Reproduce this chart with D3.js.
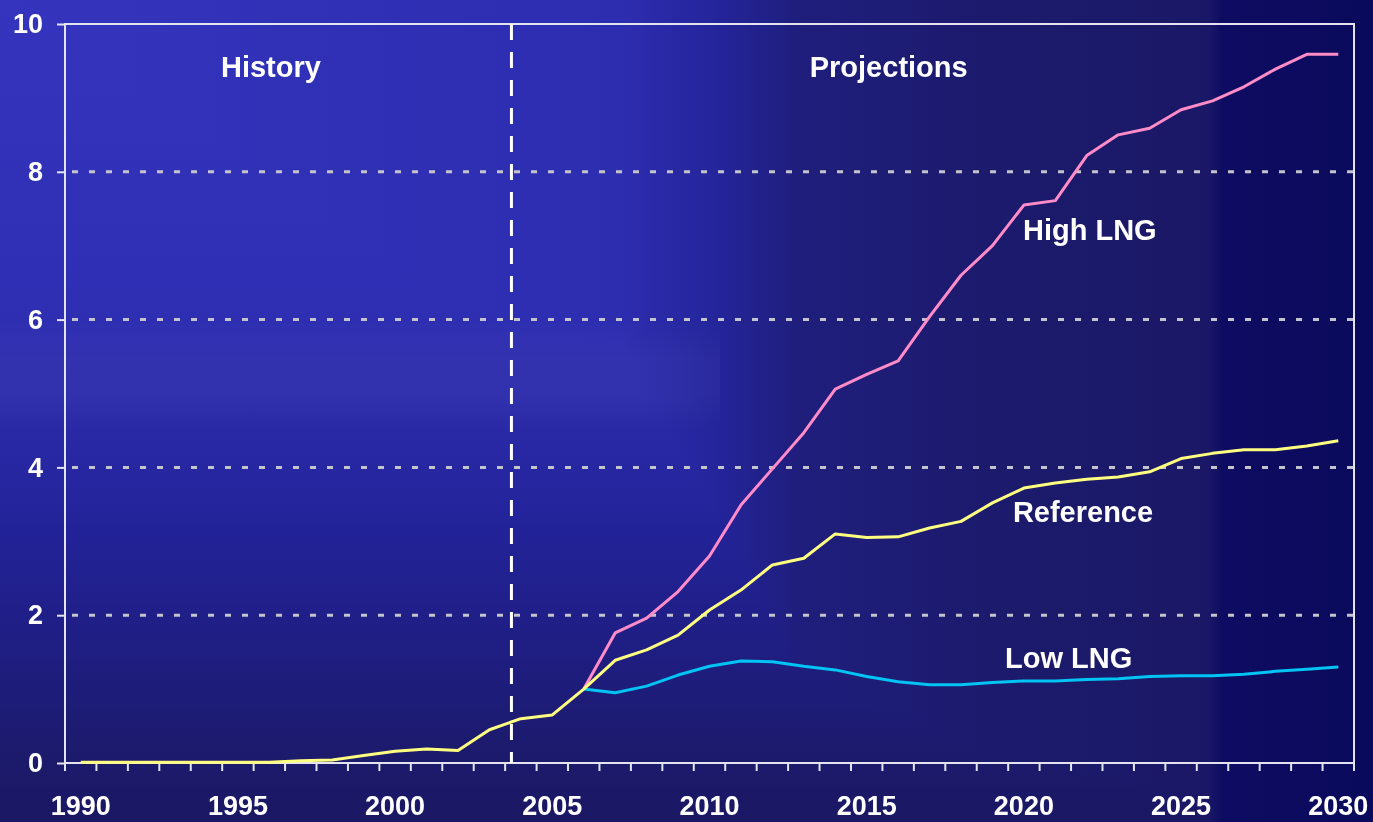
<!DOCTYPE html>
<html>
<head>
<meta charset="utf-8">
<script src="https://cdn.jsdelivr.net/npm/d3@7"></script>
<style>
  html, body { margin: 0; padding: 0; background: #1a1866; }
  svg { display: block; }
  text { font-family: "Liberation Sans", Arial, sans-serif; font-weight: bold; fill: #ffffff; }
</style>
</head>
<body>
<div id="chart"></div>
<script>
// Years on the category axis
const years = [1990, 1991, 1992, 1993, 1994, 1995, 1996, 1997, 1998, 1999,
  2000, 2001, 2002, 2003, 2004, 2005, 2006, 2007, 2008, 2009,
  2010, 2011, 2012, 2013, 2014, 2015, 2016, 2017, 2018, 2019,
  2020, 2021, 2022, 2023, 2024, 2025, 2026, 2027, 2028, 2029, 2030];
const tickLabels = [1990, 1995, 2000, 2005, 2010, 2015, 2020, 2025, 2030];
const yTicks = [0, 2, 4, 6, 8, 10];

// Reference case, 1990-2030
const referenceValues = [0.01, 0.01, 0.01, 0.01, 0.01, 0.01, 0.01, 0.03, 0.04, 0.1,
  0.16, 0.19, 0.17, 0.45, 0.6, 0.65, 1.0, 1.39, 1.53, 1.73,
  2.07, 2.34, 2.68, 2.77, 3.1, 3.05, 3.06, 3.18, 3.27, 3.52,
  3.72, 3.79, 3.84, 3.87, 3.94, 4.12, 4.19, 4.24, 4.24, 4.29, 4.36];
// High and low LNG cases branch off in 2006
const caseYears = [2006, 2007, 2008, 2009, 2010, 2011, 2012, 2013, 2014, 2015,
  2016, 2017, 2018, 2019, 2020, 2021, 2022, 2023, 2024, 2025,
  2026, 2027, 2028, 2029, 2030];
const highValues = [1.0, 1.76, 1.96, 2.32, 2.8, 3.49, 3.98, 4.47, 5.06, 5.26,
  5.44, 6.04, 6.6, 7.0, 7.55, 7.61, 8.22, 8.5, 8.59, 8.84,
  8.96, 9.15, 9.39, 9.59, 9.59];
const lowValues = [1.0, 0.95, 1.04, 1.19, 1.31, 1.38, 1.37, 1.31, 1.26, 1.17,
  1.1, 1.06, 1.06, 1.09, 1.11, 1.11, 1.13, 1.14, 1.17, 1.18,
  1.18, 1.2, 1.24, 1.27, 1.3];

const seriesNames = ["Reference", "High LNG", "Low LNG"];
const historyEnd = 2003.7;

class LngChart {
  constructor(_config) {
    this.config = {
      parentElement: _config.parentElement,
      containerWidth: _config.containerWidth || 1373,
      containerHeight: _config.containerHeight || 822,
      margin: _config.margin || { top: 24, right: 19, bottom: 59, left: 65 },
    };
    this.initVis();
  }

  initVis() {
    let vis = this;

    vis.width = vis.config.containerWidth - vis.config.margin.left - vis.config.margin.right;
    vis.height = vis.config.containerHeight - vis.config.margin.top - vis.config.margin.bottom;

    vis.svg = d3
      .select(vis.config.parentElement)
      .append("svg")
      .attr("width", vis.config.containerWidth)
      .attr("height", vis.config.containerHeight);

    // Slide style "from corner" background: a horizontal and a vertical ramp,
    // combined with darken so the contours come out rectangular
    const defs = vis.svg.append("defs");
    const addRamp = (id, horizontal, stops) => {
      const g = defs
        .append("linearGradient")
        .attr("id", id)
        .attr("gradientUnits", "userSpaceOnUse")
        .attr("x1", 0)
        .attr("y1", 0)
        .attr("x2", horizontal ? vis.config.containerWidth : 0)
        .attr("y2", horizontal ? 0 : vis.config.containerHeight);
      const len = horizontal ? vis.config.containerWidth : vis.config.containerHeight;
      stops.forEach(([p, c, o]) =>
        g.append("stop").attr("offset", p / len).attr("stop-color", c).attr("stop-opacity", o ?? 1)
      );
    };
    addRamp("bgX", true, [
      [0, "#3434be"],
      [620, "#2d2db0"],
      [720, "#24249a"],
      [800, "#1f1e7c"],
      [1000, "#1c1a6c"],
      [1208, "#1a1866"],
      [1222, "#0e0c62"],
      [1373, "#0a0a5c"],
    ]);
    addRamp("bgY", false, [
      [0, "#3434be"],
      [300, "#2f2fb4"],
      [420, "#2a2aa8"],
      [520, "#23239a"],
      [640, "#1f1e84"],
      [763, "#1c1a6a"],
      [822, "#1a1864"],
    ]);
    // faint lighter band seen on the left half
    addRamp("band", false, [
      [320, "#ffffff", 0],
      [360, "#ffffff", 0.03],
      [395, "#ffffff", 0.03],
      [430, "#ffffff", 0],
    ]);

    vis.svg
      .append("rect")
      .attr("width", vis.config.containerWidth)
      .attr("height", vis.config.containerHeight)
      .attr("fill", "url(#bgX)");
    vis.svg
      .append("rect")
      .attr("width", vis.config.containerWidth)
      .attr("height", vis.config.containerHeight)
      .attr("fill", "url(#bgY)")
      .style("mix-blend-mode", "darken");
    vis.svg
      .append("rect")
      .attr("y", 320)
      .attr("width", 720)
      .attr("height", 110)
      .attr("fill", "url(#band)");

    vis.chart = vis.svg
      .append("g")
      .attr("transform", `translate(${vis.config.margin.left},${vis.config.margin.top})`);

    // Category axis: one band per year, values drawn at band centres
    vis.xBand = d3.scaleBand().domain(years).range([0, vis.width]);
    vis.xScale = d3
      .scaleLinear()
      .domain([years[0] - 0.5, years[years.length - 1] + 0.5])
      .range([0, vis.width]);
    vis.yScale = d3.scaleLinear().domain([0, 10]).range([vis.height, 0]);

    vis.line = d3
      .line()
      .x((d) => vis.xScale(d.year))
      .y((d) => vis.yScale(d.value));
  }

  renderVis() {
    let vis = this;

    // Dotted gridlines
    vis.chart
      .selectAll(".grid")
      .data(yTicks.filter((d) => d > 0 && d < 10))
      .join("line")
      .attr("class", "grid")
      .attr("x1", 7)
      .attr("x2", vis.width)
      .attr("y1", (d) => vis.yScale(d))
      .attr("y2", (d) => vis.yScale(d))
      .attr("stroke", "#c4c4cc")
      .attr("stroke-width", 3)
      .attr("stroke-dasharray", "6,11");

    // Frame
    vis.chart
      .append("rect")
      .attr("width", vis.width)
      .attr("height", vis.height)
      .attr("fill", "none")
      .attr("stroke", "#e4e4f0")
      .attr("stroke-width", 2);

    // Y axis
    const yAxis = d3.axisLeft(vis.yScale).tickValues(yTicks).tickSize(8).tickPadding(14);
    const yAxisG = vis.chart.append("g").call(yAxis);
    yAxisG.select(".domain").remove();
    yAxisG.selectAll("line").attr("stroke", "#e4e4f0").attr("stroke-width", 2);
    yAxisG
      .selectAll("text")
      .attr("fill", "#ffffff")
      .style("font-size", "27px")
      .style("font-family", "'Liberation Sans', Arial, sans-serif")
      .style("font-weight", "bold");

    // X axis: ticks sit on the band boundaries, labels on the band centres
    const boundaries = years.map((d) => vis.xBand(d)).concat([vis.width]);
    vis.chart
      .append("g")
      .selectAll("line")
      .data(boundaries)
      .join("line")
      .attr("x1", (d) => d)
      .attr("x2", (d) => d)
      .attr("y1", vis.height)
      .attr("y2", vis.height + 8)
      .attr("stroke", "#e4e4f0")
      .attr("stroke-width", 2);

    vis.chart
      .append("g")
      .selectAll("text")
      .data(tickLabels)
      .join("text")
      .attr("x", (d) => vis.xBand(d) + vis.xBand.bandwidth() / 2)
      .attr("y", vis.height + 52)
      .attr("text-anchor", "middle")
      .style("font-size", "27px")
      .text((d) => d);

    // History / projections divider
    vis.chart
      .append("line")
      .attr("x1", vis.xScale(historyEnd))
      .attr("x2", vis.xScale(historyEnd))
      .attr("y1", 0)
      .attr("y2", vis.height)
      .attr("stroke", "#ffffff")
      .attr("stroke-width", 3)
      .attr("stroke-dasharray", "16,12");

    // Series
    const reference = years.map((y, i) => ({ year: y, value: referenceValues[i] }));
    const high = caseYears.map((y, i) => ({ year: y, value: highValues[i] }));
    const low = caseYears.map((y, i) => ({ year: y, value: lowValues[i] }));

    const series = [
      { name: seriesNames[2], values: low, color: "#00c4f4" },
      { name: seriesNames[1], values: high, color: "#ff8cc8" },
      { name: seriesNames[0], values: reference, color: "#ffff80" },
    ];

    vis.chart
      .selectAll(".series")
      .data(series)
      .join("path")
      .attr("class", "series")
      .attr("d", (d) => vis.line(d.values))
      .attr("fill", "none")
      .attr("stroke", (d) => d.color)
      .attr("stroke-width", 3)
      .attr("stroke-linejoin", "round");

    // Annotations
    const notes = [
      { text: "History", year: 1996.05, value: 9.28, anchor: "middle" },
      { text: "Projections", year: 2015.7, value: 9.28, anchor: "middle" },
      { text: "High LNG", year: 2019.97, value: 7.08, anchor: "start" },
      { text: "Reference", year: 2019.65, value: 3.26, anchor: "start" },
      { text: "Low LNG", year: 2019.4, value: 1.29, anchor: "start" },
    ];
    vis.chart
      .append("g")
      .selectAll("text")
      .data(notes)
      .join("text")
      .attr("x", (d) => vis.xScale(d.year))
      .attr("y", (d) => vis.yScale(d.value))
      .attr("text-anchor", (d) => d.anchor)
      .style("font-size", "29px")
      .text((d) => d.text);
  }
}

const chart = new LngChart({ parentElement: "#chart" });
chart.renderVis();
</script>
</body>
</html>
